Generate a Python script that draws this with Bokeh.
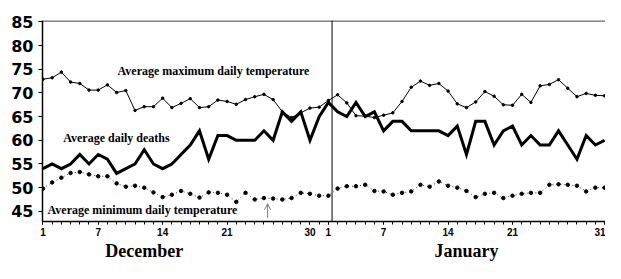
from bokeh.plotting import figure
from bokeh.models import Range1d, FixedTicker, LinearAxis, Span, Label, Arrow, OpenHead
from bokeh.embed import file_html
from bokeh.resources import INLINE

# Day index 0..61 : Dec 1 .. Jan 31
days = list(range(62))
tick_idx = [0, 6, 13, 20, 29, 31, 37, 44, 51, 61]
tick_labels = ["1", "7", "14", "21", "30", "1", "7", "14", "21", "31"]
month_pos = [11, 46]
month_labels = ["December", "January"]

deaths = [54, 55, 54, 55, 57, 55, 57, 56, 53, 54,
          55, 58, 55, 54, 55, 57, 59, 62, 56, 61,
          61, 60, 60, 60, 62, 60, 66, 64, 66, 60,
          65,
          68, 66, 65, 68, 65, 66, 62, 64, 64, 62,
          62, 62, 62, 61, 63, 57, 64, 64, 59, 62,
          63, 59, 61, 59, 59, 62, 59, 56, 61, 59,
          60]

max_temp = [72.9, 73.2, 74.4, 72.3, 72.0, 70.6, 70.6, 71.7, 70.1, 70.5,
            66.3, 67.1, 67.1, 68.9, 66.9, 67.8, 68.8, 66.9, 67.1, 68.5,
            68.2, 67.6, 68.6, 69.2, 69.7, 68.6, 66.0, 64.8, 65.8, 66.8,
            67.0,
            68.4, 69.6, 67.9, 65.2, 65.1, 64.8, 65.3, 65.8, 68.2, 71.2,
            72.5, 71.6, 72.0, 70.4, 67.7, 66.9, 68.1, 70.3, 69.3, 67.5,
            67.4, 69.7, 68.0, 71.5, 71.8, 72.8, 71.0, 69.2, 69.9, 69.5,
            69.4]

min_temp = [49.8, 51.1, 52.1, 53.1, 53.3, 52.8, 52.4, 52.4, 50.9, 50.2,
            50.4, 50.0, 49.0, 48.0, 48.5, 49.3, 48.7, 47.9, 49.0, 48.9,
            48.5, 47.0, 48.9, 47.5, 47.8, 47.7, 47.5, 47.8, 48.9, 48.7,
            48.3,
            48.3, 49.8, 50.3, 50.3, 50.6, 49.3, 49.2, 48.5, 48.9, 49.2,
            50.6, 50.2, 51.3, 50.4, 50.0, 49.3, 48.0, 48.7, 48.9, 47.8,
            48.3, 48.7, 48.9, 48.9, 50.6, 50.7, 50.6, 50.4, 49.2, 50.0,
            50.0]

y_ticks = [45, 50, 55, 60, 65, 70, 75, 80, 85]

p = figure(width=605, height=263, output_backend="svg", toolbar_location=None,
           x_range=Range1d(-0.05, 61.1), y_range=Range1d(42.85, 85.3),
           min_border_left=42, min_border_right=0, min_border_top=20,
           min_border_bottom=33)
p.xgrid.visible = False
p.ygrid.visible = False
p.outline_line_color = None
p.background_fill_color = "white"
p.border_fill_color = "white"

ya = p.yaxis[0]
ya.ticker = FixedTicker(ticks=y_ticks)
ya.major_label_text_font = "DejaVu Sans"
ya.major_label_text_font_style = "bold"
ya.major_label_text_font_size = "16px"
ya.major_label_text_color = "black"
ya.major_tick_out = 4
ya.major_tick_in = 0
ya.minor_tick_line_color = None
ya.axis_line_width = 1.5
ya.major_label_standoff = 5

xa = p.xaxis[0]
xa.ticker = FixedTicker(ticks=tick_idx, minor_ticks=days)
xa.major_label_overrides = {t: l for t, l in zip(tick_idx, tick_labels)}
xa.major_label_text_font = "Liberation Sans"
xa.major_label_text_font_style = "bold"
xa.major_label_text_font_size = "10px"
xa.major_label_text_color = "black"
xa.major_tick_out = 3
xa.major_tick_in = 0
xa.minor_tick_out = 3
xa.minor_tick_in = 0
xa.axis_line_width = 1.5
xa.major_label_standoff = 3

ma = LinearAxis(ticker=FixedTicker(ticks=month_pos, minor_ticks=[]),
                major_label_overrides={t: l for t, l in zip(month_pos, month_labels)},
                axis_line_color=None, major_tick_line_color=None,
                minor_tick_line_color=None,
                major_tick_out=0, major_tick_in=0,
                minor_tick_out=0, minor_tick_in=0,
                major_label_text_font="Liberation Serif",
                major_label_text_font_style="bold",
                major_label_text_font_size="18px",
                major_label_text_color="black",
                major_label_standoff=2)
p.add_layout(ma, "below")

p.add_layout(Span(location=85.2, dimension="width", line_color="black", line_width=1))
p.add_layout(Span(location=31.4, dimension="height", line_color="black", line_width=1))

p.line(days, max_temp, line_width=1, color="black")
p.scatter(days, max_temp, size=2.5, color="black")
p.line(days, deaths, line_width=3, color="black", line_join="miter")
p.line(days, min_temp, line_width=0.8, line_dash="1 3", color="black")
p.scatter(days, min_temp, size=3.5, color="black")

p.add_layout(Arrow(end=OpenHead(size=6, line_color="gray", line_width=1),
                   x_start=24.4, y_start=43.6, x_end=24.4, y_end=46.6,
                   line_color="gray", line_width=1))

for x, y, t in [(8.1, 74.6, "Average maximum daily temperature"),
                (2.2, 60.5, "Average daily deaths"),
                (0.5, 45.2, "Average minimum daily temperature")]:
    p.add_layout(Label(x=x, y=y, text=t, text_baseline="middle",
                       text_font="Liberation Serif", text_font_style="bold",
                       text_font_size="12px", text_color="black"))

open("out.html", "w").write(file_html(p, INLINE))
